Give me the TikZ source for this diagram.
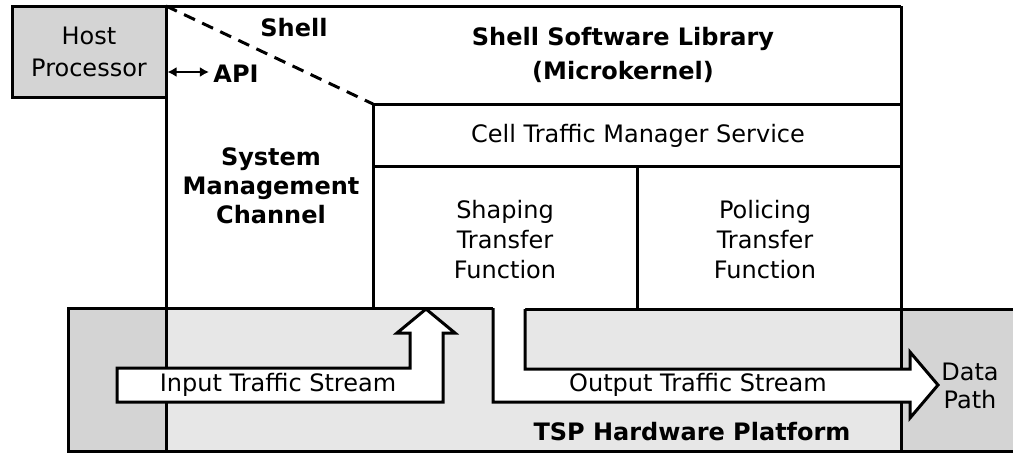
\documentclass[tikz,border=0pt]{standalone}
\usepackage{fontspec}
\setmainfont{DejaVu Sans}
\usetikzlibrary{arrows.meta}
\definecolor{darkgr}{RGB}{212,212,212}
\definecolor{lightgr}{RGB}{231,231,231}
\begin{document}
\begin{tikzpicture}[x=1pt,y=-1pt, line width=3pt, line join=miter,
  lbl/.style={font=\fontsize{24}{30}\selectfont, align=center, inner sep=0pt},
  blbl/.style={font=\fontsize{24}{30}\selectfont\bfseries, align=center, inner sep=0pt},
  hostbox/.style={draw, fill=darkgr, minimum width=154pt, minimum height=91pt, inner sep=0pt,
    align=center, font=\fontsize{24}{32}\selectfont},
  bound/.style={dash pattern=on 12pt off 8pt}]
\useasboundingbox (0,0) rectangle (1013,453);
\fill[white] (0,0) rectangle (1013,453);
% platform fills
\fill[lightgr] (68,308) rectangle (1020,451);
\fill[darkgr] (68,308) rectangle (166,451);
\fill[darkgr] (901,308) rectangle (1020,451);
% long verticals
\draw (166,6) -- (166,451);
\draw (901,6) -- (901,451);
% platform outline
\draw (1020,451) -- (68,451) -- (68,308) -- (493,308);
\draw (525,309) -- (1020,309);
% output arrow
\fill[white] (493,300) -- (493,402) -- (910,402) -- (910,418) -- (938,385) -- (910,352) -- (910,369) -- (525,369) -- (525,300) -- cycle;
\draw (493,308) -- (493,402) -- (910,402) -- (910,418) -- (938,385) -- (910,352) -- (910,369) -- (525,369) -- (525,309);
% input arrow
\draw[fill=white] (117,368) -- (410,368) -- (410,333) -- (397,333) -- (426,309) -- (455,333) -- (443,333) -- (443,402) -- (117,402) -- cycle;
% upper structure
\draw (12,6) -- (901,6);
\draw[bound] (166,6) -- (373,104);
\draw (373,308) -- (373,104) -- (901,104);
\draw (373,166) -- (901,166);
\draw (637,166) -- (637,308);
% host
\node[hostbox] (host) at (89,51.5) {Host\\Processor};
% texts
\node[blbl] (shell) at (294,28) {Shell};
\node[blbl] (api) at (236,74) {API};
\draw[line width=2.6pt, {Latex[length=9pt,width=10pt]}-{Latex[length=9pt,width=10pt]}] (host.east |- 0,72) -- ([xshift=-3pt]api.west |- 0,72);
\node[blbl, font=\fontsize{24}{34}\selectfont\bfseries] (ssl) at (623,55) {Shell Software Library\\(Microkernel)};
\node[lbl] (ctm) at (638,136) {Cell Traffic Manager Service};
\node[blbl, font=\fontsize{24}{29}\selectfont\bfseries] (smc) at (271,186) {System\\Management\\Channel};
\node[lbl] (shp) at (505,240) {Shaping\\Transfer\\Function};
\node[lbl] (pol) at (765,240) {Policing\\Transfer\\Function};
\node[lbl] (its) at (278,385) {Input Traffic Stream};
\node[lbl] (ots) at (698,385) {Output Traffic Stream};
\node[lbl, font=\fontsize{24}{28}\selectfont] (dp) at (970,386) {Data\\Path};
\node[blbl] (tsp) at (692,432) {TSP Hardware Platform};
\end{tikzpicture}
\end{document}
